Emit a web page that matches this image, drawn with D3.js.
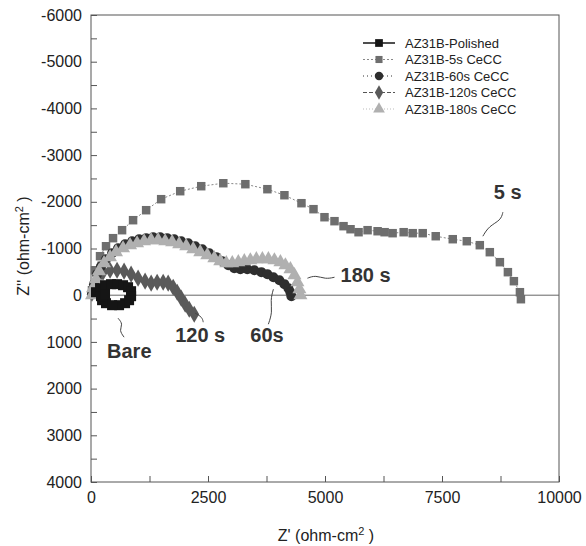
<!DOCTYPE html>
<html>
<head>
<meta charset="utf-8">
<script src="https://cdn.jsdelivr.net/npm/d3@7"></script>
<style>
  body { margin: 0; background: #fff; }
  text { font-family: "Liberation Sans", Arial, sans-serif; }
</style>
</head>
<body>
<div id="chart"></div>
<script>
// Series names (legend order)
var seriesNames = ["AZ31B-Polished", "AZ31B-5s CeCC", "AZ31B-60s CeCC", "AZ31B-120s CeCC", "AZ31B-180s CeCC"];

// [Z', Z''] values, ohm-cm2
var polished = [
  [107,-64],[193,-150],[300,-214],[428,-236],[557,-236],[685,-214],[792,-171],[857,-86],
  [857,21],[814,107],[728,171],[600,214],[450,214],[321,171],[236,107],[214,21],
  [300,-21]
];

var cecc5s = [
  [21,-107],[86,-535],[193,-835],[321,-1049],[471,-1221],[664,-1392],[899,-1606],[1178,-1820],
  [1499,-2056],[1906,-2227],[2355,-2334],[2827,-2398],[3298,-2377],[3769,-2270],[4133,-2141],
  [4497,-1970],[4754,-1842],[4989,-1670],[5203,-1585],[5396,-1478],[5546,-1413],[5717,-1349],
  [5910,-1392],[6124,-1370],[6274,-1349],[6445,-1328],[6681,-1349],[6874,-1328],[7088,-1328],
  [7366,-1263],[7730,-1199],[8030,-1156],[8308,-1071],[8522,-921],[8737,-707],[8908,-493],
  [9036,-300],[9165,-64],[9186,86]
];

var cecc60s = [
  [21,-21],[64,-236],[128,-450],[214,-621],[321,-771],[450,-899],[578,-1006],[728,-1092],
  [878,-1156],[1028,-1199],[1178,-1221],[1328,-1242],[1478,-1242],[1627,-1221],[1777,-1199],
  [1927,-1156],[2077,-1113],[2227,-1049],[2377,-985],[2527,-899],[2677,-814],[2805,-728],
  [2934,-642],[3062,-578],[3191,-557],[3340,-557],[3490,-535],[3640,-493],[3769,-450],
  [3897,-385],[4026,-321],[4133,-236],[4218,-150],[4261,-64],[4283,21]
];

var cecc120s = [
  [21,-43],[86,-214],[150,-385],[257,-493],[407,-535],[557,-535],[707,-514],[857,-450],
  [1006,-364],[1156,-300],[1285,-257],[1413,-278],[1542,-278],[1649,-257],[1756,-171],
  [1842,-64],[1927,64],[2013,193],[2099,300],[2206,407]
];

var cecc180s = [
  [21,0],[43,-150],[107,-343],[171,-514],[278,-685],[407,-814],[535,-921],[685,-1006],
  [835,-1071],[985,-1113],[1135,-1156],[1285,-1178],[1435,-1178],[1585,-1156],[1734,-1135],
  [1884,-1092],[2034,-1049],[2184,-985],[2334,-921],[2484,-857],[2634,-792],[2762,-728],
  [2891,-685],[3019,-685],[3148,-707],[3276,-728],[3405,-749],[3533,-771],[3662,-771],
  [3790,-771],[3919,-749],[4047,-707],[4154,-642],[4261,-557],[4347,-428],[4411,-278],
  [4454,-128],[4475,0]
];

// Axis ticks
var xTicks = [0, 1250, 2500, 3750, 5000, 6250, 7500, 8750, 10000];
var xTickLabels = [0, 2500, 5000, 7500, 10000];
var yTicks = [-6000,-5500,-5000,-4500,-4000,-3500,-3000,-2500,-2000,-1500,-1000,-500,0,500,1000,1500,2000,2500,3000,3500,4000];
var yTickLabels = [-6000,-5000,-4000,-3000,-2000,-1000,0,1000,2000,3000,4000];

// Curve labels and their leader lines
var curveLabels = [
  {text: "Bare", at: [343, 1349]},
  {text: "120 s", at: [1799, 1006]},
  {text: "60s", at: [3405, 1006]},
  {text: "180 s", at: [5332, -278]},
  {text: "5 s", at: [8608, -2056]}
];
var leaders = [
  [[578,493],[685,621],[600,749],[707,899]],
  [[2227,385],[2377,471],[2398,578]],
  [[3897,-128],[3833,107],[3876,364],[3790,621]],
  [[4625,-364],[4797,-428],[5011,-343],[5203,-385]],
  [[8801,-1777],[8758,-1606],[8501,-1478],[8373,-1263]]
];

var width = 586, height = 546;

var svg = d3.select("#chart").append("svg")
    .attr("width", width)
    .attr("height", height);

var x = d3.scaleLinear().domain([0, 10000]).range([91, 559]);
var y = d3.scaleLinear().domain([-6000, 4000]).range([15, 482]);

// frame
svg.append("rect")
    .attr("x", x(0)).attr("y", y(-6000))
    .attr("width", x(10000) - x(0)).attr("height", y(4000) - y(-6000))
    .attr("fill", "none").attr("stroke", "#555").attr("stroke-width", 1);

// zero line
svg.append("line")
    .attr("x1", x(0)).attr("x2", x(10000))
    .attr("y1", y(0)).attr("y2", y(0))
    .attr("stroke", "#666").attr("stroke-width", 1);

// X axis
var xAxis = svg.append("g")
    .attr("transform", `translate(0,${y(4000)})`)
    .call(d3.axisBottom(x).tickValues(xTicks).tickSize(-6).tickPadding(10)
        .tickFormat(d => xTickLabels.includes(d) ? String(d) : ""));
xAxis.select(".domain").remove();
xAxis.selectAll("line").attr("stroke", "#555");
xAxis.selectAll("text").attr("font-size", "16px").attr("fill", "#222")
    .attr("font-family", "Liberation Sans, Arial, sans-serif");

// Y axis
var yAxis = svg.append("g")
    .attr("transform", `translate(${x(0)},0)`)
    .call(d3.axisLeft(y).tickValues(yTicks).tickSize(-6).tickPadding(9)
        .tickFormat(d => yTickLabels.includes(d) ? String(d) : ""));
yAxis.select(".domain").remove();
yAxis.selectAll("line").attr("stroke", "#555");
yAxis.selectAll("text").attr("font-size", "16px").attr("fill", "#222")
    .attr("font-family", "Liberation Sans, Arial, sans-serif");

// Axis titles
var xTitle = svg.append("text")
    .attr("x", 326).attr("y", 541)
    .attr("text-anchor", "middle")
    .attr("font-size", "16px").attr("fill", "#222");
xTitle.append("tspan").text("Z' (ohm-cm");
xTitle.append("tspan").attr("dy", -6).attr("font-size", "11px").text("2");
xTitle.append("tspan").attr("dy", 6).text(" )");

var yTitle = svg.append("text")
    .attr("transform", "translate(29,246) rotate(-90)")
    .attr("text-anchor", "middle")
    .attr("font-size", "16px").attr("fill", "#222");
yTitle.append("tspan").text("Z'' (ohm-cm");
yTitle.append("tspan").attr("dy", -6).attr("font-size", "11px").text("2");
yTitle.append("tspan").attr("dy", 6).text(" )");

// Series styles
var styles = [
  {data: polished, color: "#151515", symbol: d3.symbolSquare, size: 100, dash: null, lineColor: "#151515"},
  {data: cecc5s, color: "#6e6e6e", symbol: d3.symbolSquare, size: 72, dash: "2,2", lineColor: "#888"},
  {data: cecc60s, color: "#2e2e2e", symbol: d3.symbolCircle, size: 80, dash: "1,3", lineColor: "#333"},
  {data: cecc120s, color: "#5a5a5a", symbol: d3.symbolDiamond, size: 85, dash: "4,2", lineColor: "#555"},
  {data: cecc180s, color: "#b0b0b0", symbol: d3.symbolTriangle, size: 85, dash: "1,2", lineColor: "#bbb"}
];

var line = d3.line().x(d => x(d[0])).y(d => y(d[1]));

var drawOrder = [1, 3, 2, 4, 0];
drawOrder.forEach(function(i) {
  var s = styles[i];
  svg.append("path")
      .datum(s.data)
      .attr("d", line)
      .attr("fill", "none")
      .attr("stroke", s.lineColor)
      .attr("stroke-width", 1)
      .attr("stroke-dasharray", s.dash);
  svg.append("g").selectAll("path")
      .data(s.data)
      .join("path")
      .attr("transform", d => `translate(${x(d[0])},${y(d[1])})`)
      .attr("d", d3.symbol().type(s.symbol).size(s.size))
      .attr("fill", s.color);
});

// Leader lines and curve labels
var leaderLine = d3.line().x(d => x(d[0])).y(d => y(d[1])).curve(d3.curveBasis);
svg.append("g").selectAll("path")
    .data(leaders)
    .join("path")
    .attr("d", leaderLine)
    .attr("fill", "none")
    .attr("stroke", "#444")
    .attr("stroke-width", 1);

svg.append("g").selectAll("text")
    .data(curveLabels)
    .join("text")
    .attr("x", d => x(d.at[0]))
    .attr("y", d => y(d.at[1]))
    .attr("font-size", "20px")
    .attr("font-weight", "bold")
    .attr("fill", "#333")
    .text(d => d.text);

// Legend
var legend = svg.append("g").attr("transform", "translate(363,43)");
styles.forEach(function(s, i) {
  var row = legend.append("g").attr("transform", `translate(0,${i * 16.5})`);
  row.append("line")
      .attr("x1", 0).attr("x2", 32)
      .attr("stroke", s.lineColor)
      .attr("stroke-width", i === 0 ? 1.5 : 1)
      .attr("stroke-dasharray", s.dash);
  row.append("path")
      .attr("transform", "translate(16,0)")
      .attr("d", d3.symbol().type(s.symbol).size(i === 0 ? 60 : s.size * 0.7))
      .attr("fill", s.color);
  row.append("text")
      .attr("x", 42).attr("y", 0)
      .attr("dy", "0.35em")
      .attr("font-size", "13px")
      .attr("fill", "#222")
      .text(seriesNames[i]);
});
</script>
</body>
</html>
